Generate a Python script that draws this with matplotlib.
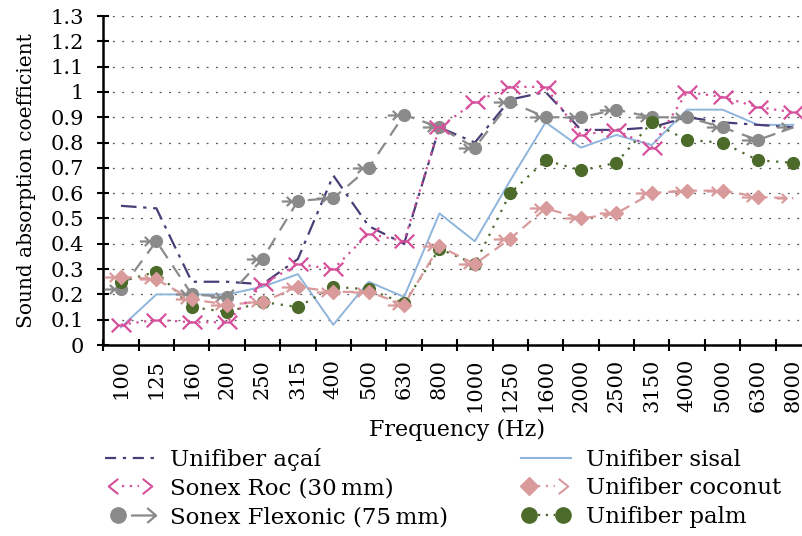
import numpy as np
import matplotlib
matplotlib.use('Agg')
import matplotlib.pyplot as plt
from matplotlib.path import Path
from matplotlib.lines import Line2D
from matplotlib.legend_handler import HandlerTuple

freqs = ['100', '125', '160', '200', '250', '315', '400', '500', '630', '800',
         '1000', '1250', '1600', '2000', '2500', '3150', '4000', '5000', '6300', '8000']
acai = [0.55, 0.54, 0.25, 0.25, 0.24, 0.34, 0.67, 0.47, 0.40, 0.86,
        0.80, 0.97, 1.00, 0.85, 0.85, 0.86, 0.90, 0.88, 0.87, 0.86]
sisal = [0.07, 0.20, 0.20, 0.20, 0.23, 0.28, 0.08, 0.25, 0.19, 0.52,
         0.41, 0.65, 0.88, 0.78, 0.83, 0.79, 0.93, 0.93, 0.87, 0.87]
roc = [0.08, 0.10, 0.09, 0.09, 0.24, 0.32, 0.30, 0.44, 0.41, 0.86,
       0.96, 1.02, 1.02, 0.83, 0.85, 0.78, 1.00, 0.98, 0.94, 0.92]
flexonic = [0.22, 0.41, 0.20, 0.19, 0.34, 0.57, 0.58, 0.70, 0.91, 0.86,
            0.78, 0.96, 0.90, 0.90, 0.93, 0.90, 0.90, 0.86, 0.81, 0.86]
coconut = [0.27, 0.26, 0.18, 0.16, 0.17, 0.23, 0.21, 0.21, 0.16, 0.39,
           0.32, 0.42, 0.54, 0.50, 0.52, 0.60, 0.61, 0.61, 0.585, 0.58]
palm = [0.25, 0.29, 0.15, 0.13, 0.17, 0.15, 0.23, 0.22, 0.165, 0.38,
        0.32, 0.60, 0.73, 0.69, 0.72, 0.88, 0.81, 0.80, 0.73, 0.72]
yticks = [0, 0.1, 0.2, 0.3, 0.4, 0.5, 0.6, 0.7, 0.8, 0.9, 1.0, 1.1, 1.2, 1.3]
ytick_labels = ['0', '0.1', '0.2', '0.3', '0.4', '0.5', '0.6', '0.7', '0.8', '0.9',
                '1', '1.1', '1.2', '1.3']

plt.rcParams['font.family'] = ['DejaVu Serif']
FS = 15

c_acai = '#4a3d78'
c_sisal = '#8fb5dc'
c_roc = '#d6509c'
c_flex = '#8a8a8a'
c_coco = '#d99a9c'
c_palm = '#4c6a2a'

# marker paths
M, L = Path.MOVETO, Path.LINETO
arrow_left = Path([(-2.2, 0), (-0.9, 0), (-1.55, 0.6), (-0.9, 0), (-1.55, -0.6)],
                  [M, L, L, M, L])
arrow_c = Path([(-1, 0), (1, 0), (0.3, 0.6), (1, 0), (0.3, -0.6)], [M, L, L, M, L])
dbl = Path([(-1, 0.7), (-0.3, 0), (-1, -0.7), (-0.3, 0), (0.3, 0), (1, 0.7), (0.3, 0), (1, -0.7)],
           [M, L, L, M, L, M, L, L])
chev_l = Path([(0.5, 0.8), (-0.5, 0), (0.5, -0.8)], [M, L, L])
chev_r = Path([(-0.5, 0.8), (0.5, 0), (-0.5, -0.8)], [M, L, L])

fig = plt.figure(figsize=(8.02, 5.36), dpi=100)
ax = fig.add_axes([0.1288, 0.3563, 0.8824, 0.6138])
x = np.arange(len(freqs))

for v in yticks[1:]:
    ax.axhline(v, color='#555555', lw=0.9, ls=(0, (1.5, 6)), zorder=0)

ax.plot(x, sisal, color=c_sisal, lw=1.4, zorder=2)
ax.plot(x, acai, color=c_acai, lw=1.6, ls=(0, (7, 3, 1.5, 3)), zorder=3)
ax.plot(x, flexonic, color=c_flex, lw=1.6, ls=(0, (6, 4)), marker='o', ms=8.5,
        markevery=slice(0, len(freqs) - 1), mec=c_flex, mfc=c_flex, zorder=4)
ax.plot(x, flexonic, ls='none', marker=arrow_left, ms=24, mec=c_flex, mfc='none',
        mew=1.6, zorder=4)
ax.plot(x, palm, color=c_palm, lw=1.6, ls=(0, (1, 3)), marker='o', ms=8.5,
        mec=c_palm, mfc=c_palm, zorder=5)
ax.plot(x, coconut, color=c_coco, lw=1.6, ls=(0, (5, 3)), marker='D', ms=7,
        markevery=slice(0, len(freqs) - 1), mec=c_coco, mfc=c_coco, zorder=6)
ax.plot(x, coconut, ls='none', marker=arrow_left, ms=24, mec=c_coco, mfc='none',
        mew=1.6, zorder=6)
ax.plot(x, roc, color=c_roc, lw=1.6, ls=(0, (1, 2.5)), marker=dbl, ms=14,
        mec=c_roc, mfc='none', mew=1.6, zorder=7)

ax.set_xlim(-0.45, 19.5)
ax.set_ylim(0, 1.3)
ax.set_yticks(yticks)
ax.set_yticklabels(ytick_labels, fontsize=FS)
ax.set_xticks(np.arange(len(freqs) + 1) - 0.5)
ax.set_xticklabels([])
ax.set_xticks(x, minor=True)
ax.set_xticklabels(freqs, minor=True, rotation=90, fontsize=FS)
ax.tick_params(axis='x', which='minor', length=0, pad=10)
ax.tick_params(axis='x', which='major', direction='inout', length=8, width=1.5)
ax.tick_params(axis='y', direction='inout', length=8, width=1.5, pad=10)
for s in ['top', 'right']:
    ax.spines[s].set_visible(False)
for s in ['left', 'bottom']:
    ax.spines[s].set_linewidth(1.8)
ax.set_ylabel('Sound absorption coefficient', fontsize=14.5, labelpad=10)
ax.set_xlabel('Frequency (Hz)', fontsize=FS + 1)
ax.xaxis.set_label_coords(0.5, -0.225)

# legend handles
LFS = 16.5
h_acai = Line2D([], [], color=c_acai, lw=1.6, ls=(0, (5, 3, 1.5, 3)))
h_roc = (Line2D([], [], ls='none', marker=chev_l, ms=11, mec=c_roc, mfc='none', mew=1.5),
         Line2D([], [], color=c_roc, lw=1.6, ls=(0, (1, 2.5))),
         Line2D([], [], ls='none', marker=chev_r, ms=11, mec=c_roc, mfc='none', mew=1.5))
h_flex = (Line2D([], [], ls='none', marker='o', ms=11, mec=c_flex, mfc=c_flex),
          Line2D([], [], ls='none', marker=arrow_c, ms=18, mec=c_flex, mfc='none', mew=1.6))
h_sisal = Line2D([], [], color=c_sisal, lw=1.5)
h_coco = (Line2D([], [], ls='none', marker='D', ms=9, mec=c_coco, mfc=c_coco),
          Line2D([], [], color=c_coco, lw=1.6, ls=(0, (1, 2.5))),
          Line2D([], [], ls='none', marker=chev_r, ms=11, mec=c_coco, mfc='none', mew=1.5))
h_palm = (Line2D([], [], ls='none', marker='o', ms=11, mec=c_palm, mfc=c_palm),
          Line2D([], [], color=c_palm, lw=1.6, ls=(0, (1, 2.5))),
          Line2D([], [], ls='none', marker='o', ms=11, mec=c_palm, mfc=c_palm))

handles = [h_acai, h_roc, h_flex, h_sisal, h_coco, h_palm]
labels = ['Unifiber açaí', 'Sonex Roc (30\u2009mm)', 'Sonex Flexonic (75\u2009mm)',
          'Unifiber sisal', 'Unifiber coconut', 'Unifiber palm']
fig.legend(handles, labels, ncol=2, loc='upper left', bbox_to_anchor=(0.131, 0.165),
           frameon=False, fontsize=LFS, handlelength=2.2, handletextpad=0.62,
           columnspacing=3.2, labelspacing=0.3, borderaxespad=0, borderpad=0,
           handler_map={tuple: HandlerTuple(ndivide=None, pad=0.0)})

fig.savefig('out.png', dpi=100)
